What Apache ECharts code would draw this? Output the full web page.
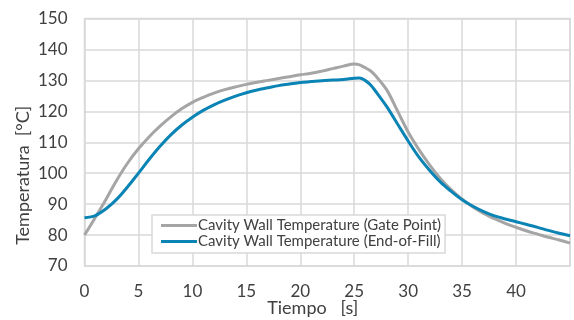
<!DOCTYPE html>
<html><head><meta charset="utf-8">
<script src="https://cdn.jsdelivr.net/npm/echarts@6/dist/echarts.min.js"></script>
<style>html,body{margin:0;padding:0;background:#fff}#c{width:574px;height:320px}</style>
</head><body><div id="c"></div>
<script>
const gateTimes = [0,1,2,3,4,5,6,7,8,9,10,11,12,13,14,15,16,17,18,19,20,21,22,23,24,25,25.5,26,26.5,27,28,29,30,31,32,33,34,35,36,37,38,39,40,41,42,43,44,45];
const gateTemps = [80,85.7,91.6,97.8,103.3,107.9,111.8,115.2,118.2,120.8,122.9,124.5,125.9,127,127.9,128.7,129.4,130,130.6,131.2,131.8,132.3,133,133.8,134.6,135.3,135,134.1,133.1,131.4,127,120.2,113.3,107.6,102.6,98.2,94.6,91.6,89.1,87,85.3,83.8,82.5,81.3,80.3,79.3,78.4,77.4];
const eofTimes = [0,1,2,3,4,5,6,7,8,9,10,11,12,13,14,15,16,17,18,19,20,21,22,23,24,25,25.5,26,26.5,27,28,29,30,31,32,33,34,35,36,37,38,39,40,41,42,43,44,45];
const eofTemps = [85.6,86.3,88.5,91.6,95.6,100,104.5,108.7,112.4,115.5,118.1,120.3,122.1,123.6,124.9,126,126.9,127.6,128.3,128.8,129.3,129.6,129.9,130.1,130.3,130.7,130.8,130,128.6,126.4,121.6,116,110.4,105.2,100.9,97.1,94.1,91.4,89.3,87.6,86.2,85.2,84.3,83.4,82.5,81.5,80.6,79.8];
const seriesNames = ['Cavity Wall Temperature (Gate Point)','Cavity Wall Temperature (End-of-Fill)'];
const xName = 'Tiempo   [s]';
const yName = 'Temperatura  [°C]';

const font = 'Lato, "Noto Sans", sans-serif';
const gridColor = '#D9D9D9';
const chart = echarts.init(document.getElementById('c'));
chart.setOption({
  animation:false,
  grid:{left:84.5,right:4,top:18.5,bottom:54,show:true,borderColor:gridColor,borderWidth:1.5,
    containLabel:false,outerBoundsMode:'none'},
  legend:{
    left:152,top:215,orient:'vertical',itemGap:1,itemWidth:36,itemHeight:3,
    backgroundColor:'#fff',borderColor:gridColor,borderWidth:1.5,padding:[3,4,4,9],
    textStyle:{fontFamily:font,fontSize:15,color:'#404040',padding:[0,0,0,-4]},
    data:seriesNames.map(n=>({name:n,icon:'rect'}))
  },
  xAxis:{type:'value',min:0,max:45,interval:5,
    axisLine:{show:false},axisTick:{show:false},
    splitLine:{lineStyle:{color:gridColor,width:1.5}},
    axisLabel:{fontFamily:font,fontSize:17,color:'#404040',margin:17,
      formatter:v=>v===45?'':v},
    name:xName,nameLocation:'middle',nameGap:33,nameMoveOverlap:false,
    nameTextStyle:{fontFamily:font,fontSize:18,color:'#404040',padding:[0,29,0,0]}
  },
  yAxis:{type:'value',min:70,max:150,interval:10,
    axisLine:{show:false},axisTick:{show:false},
    splitLine:{lineStyle:{color:gridColor,width:1.5}},
    axisLabel:{fontFamily:font,fontSize:17,color:'#404040',margin:17},
    name:yName,nameLocation:'middle',nameGap:52,nameMoveOverlap:false,
    nameTextStyle:{fontFamily:font,fontSize:18,color:'#404040',padding:[0,66,0,0]}
  },
  series:[
    {name:seriesNames[0],type:'line',smooth:0.35,showSymbol:false,
      lineStyle:{color:'#A5A5A5',width:3},itemStyle:{color:'#A5A5A5'},
      data:gateTimes.map((t,i)=>[t,gateTemps[i]])},
    {name:seriesNames[1],type:'line',smooth:0.35,showSymbol:false,
      lineStyle:{color:'#0A83B5',width:3},itemStyle:{color:'#0A83B5'},
      data:eofTimes.map((t,i)=>[t,eofTemps[i]])}
  ]
});
</script></body></html>
